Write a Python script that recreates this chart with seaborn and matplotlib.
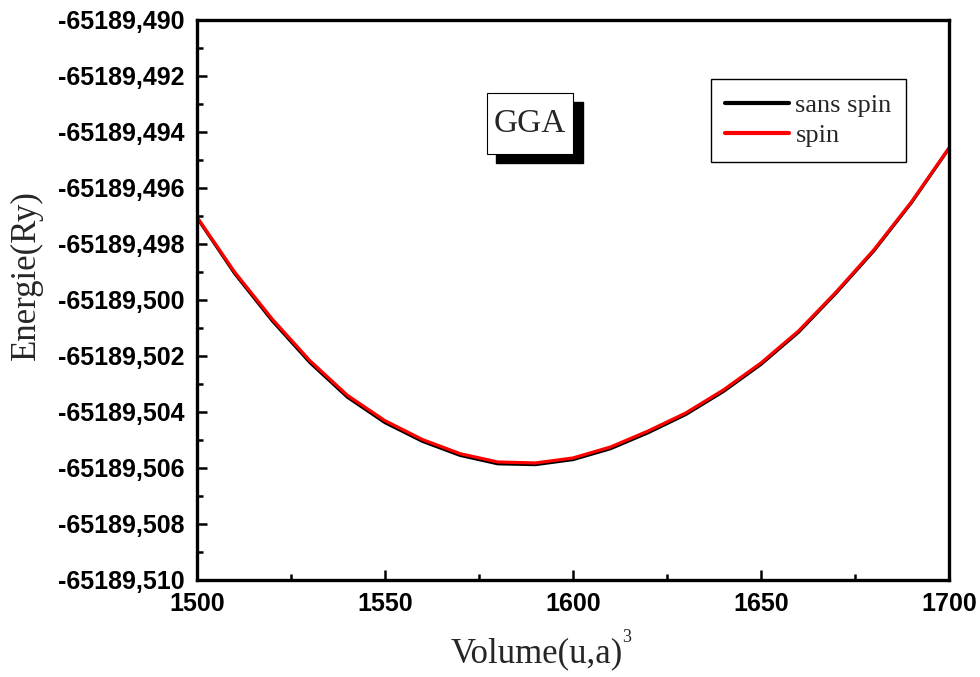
import numpy as np
import pandas as pd
import matplotlib
matplotlib.use("Agg")
import matplotlib.pyplot as plt
from matplotlib.ticker import FuncFormatter, MultipleLocator
from matplotlib.patches import Rectangle
import seaborn as sns

# Volume (u.a.)^3 and total energy (Ry)
volume = [1500, 1510, 1520, 1530, 1540, 1550, 1560, 1570, 1580, 1590, 1600,
          1610, 1620, 1630, 1640, 1650, 1660, 1670, 1680, 1690, 1700]
energy_spin = [-65189.497036, -65189.499000, -65189.500679, -65189.502164,
               -65189.503404, -65189.504311, -65189.504986, -65189.505489,
               -65189.505786, -65189.505821, -65189.505643, -65189.505250,
               -65189.504679, -65189.504036, -65189.503214, -65189.502250,
               -65189.501107, -65189.499714, -65189.498214, -65189.496500,
               -65189.494571]
energy_nospin = [-65189.497060, -65189.499050, -65189.500740, -65189.502230,
                 -65189.503470, -65189.504380, -65189.505050, -65189.505550,
                 -65189.505850, -65189.505880, -65189.505700, -65189.505310,
                 -65189.504740, -65189.504090, -65189.503270, -65189.502300,
                 -65189.501150, -65189.499750, -65189.498250, -65189.496530,
                 -65189.494590]
series_names = ["sans spin", "spin"]
series_colors = ["#000000", "#ff0000"]

df = pd.concat([
    pd.DataFrame({"Volume": volume, "Energie": energy_nospin, "cas": series_names[0]}),
    pd.DataFrame({"Volume": volume, "Energie": energy_spin, "cas": series_names[1]}),
], ignore_index=True)

sns.set_style("ticks")
plt.rcParams["font.family"] = ["Liberation Sans", "DejaVu Sans"]

fig = plt.figure(figsize=(9.8, 6.77), dpi=100)
ax = fig.add_axes([0.201, 0.1433, 0.7673, 0.8272])

sns.lineplot(data=df, x="Volume", y="Energie", hue="cas",
             palette=dict(zip(series_names, series_colors)),
             linewidth=2.3, sort=True, ax=ax)

ax.set_xlim(1500, 1700)
ax.set_ylim(-65189.510, -65189.490)
ax.xaxis.set_major_locator(MultipleLocator(50))
ax.xaxis.set_minor_locator(MultipleLocator(25))
ax.yaxis.set_major_locator(MultipleLocator(0.002))
ax.yaxis.set_minor_locator(MultipleLocator(0.001))
ax.yaxis.set_major_formatter(FuncFormatter(lambda v, p: f"{v:.3f}".replace(".", ",")))
ax.xaxis.set_major_formatter(FuncFormatter(lambda v, p: f"{v:.0f}"))

for side in ["left", "right", "top", "bottom"]:
    ax.spines[side].set_linewidth(2.4)
    ax.spines[side].set_color("black")

ax.tick_params(which="major", direction="in", length=7, width=1.8,
               top=False, right=False, colors="black", pad=9)
ax.tick_params(which="minor", direction="in", length=4, width=1.8,
               top=False, right=False, colors="black")
for lab in ax.get_xticklabels() + ax.get_yticklabels():
    lab.set_fontsize(18)
    lab.set_fontweight("bold")
    lab.set_family("Liberation Sans")

# Axis titles
ax.set_xlabel("Volume(u,a)", fontsize=25, family="Liberation Serif")
ax.xaxis.set_label_coords(0.452, -0.103)
ax.set_ylabel("Energie(Ry)", fontsize=25, family="Liberation Serif")
ax.yaxis.set_label_coords(-0.205, 0.545)

# GGA label box with drop shadow
ax.add_patch(Rectangle((0.3976, 0.7446), 0.1157, 0.109, transform=ax.transAxes,
                       facecolor="black", edgecolor="black", zorder=5))
ax.add_patch(Rectangle((0.3856, 0.7607), 0.1144, 0.1089, transform=ax.transAxes,
                       facecolor="white", edgecolor="black", linewidth=0.8, zorder=6))
ax.text(0.4428, 0.815, "GGA", transform=ax.transAxes, ha="center", va="center",
        fontsize=24, family="Liberation Serif", zorder=7)

leg = ax.legend(loc="upper left", bbox_to_anchor=(0.6835, 0.894), borderaxespad=0,
                frameon=True, fancybox=False, framealpha=1, edgecolor="black",
                prop={"family": "Liberation Serif", "size": 19},
                handlelength=2.4, handletextpad=0.25, borderpad=0.55,
                labelspacing=0.25, title=None)
leg.get_frame().set_linewidth(1.0)
for line in leg.get_lines():
    line.set_linewidth(3)

# Small superscript exponent after the volume unit
fig.canvas.draw()
bb = ax.xaxis.label.get_window_extent(fig.canvas.get_renderer())
W, H = fig.bbox.width, fig.bbox.height
fig.text((bb.x1 - 1) / W, (bb.y1 + 9) / H, "3", ha="left", va="top",
         fontsize=13, family="Liberation Serif")

fig.savefig("out.png", dpi=100, facecolor="white")
